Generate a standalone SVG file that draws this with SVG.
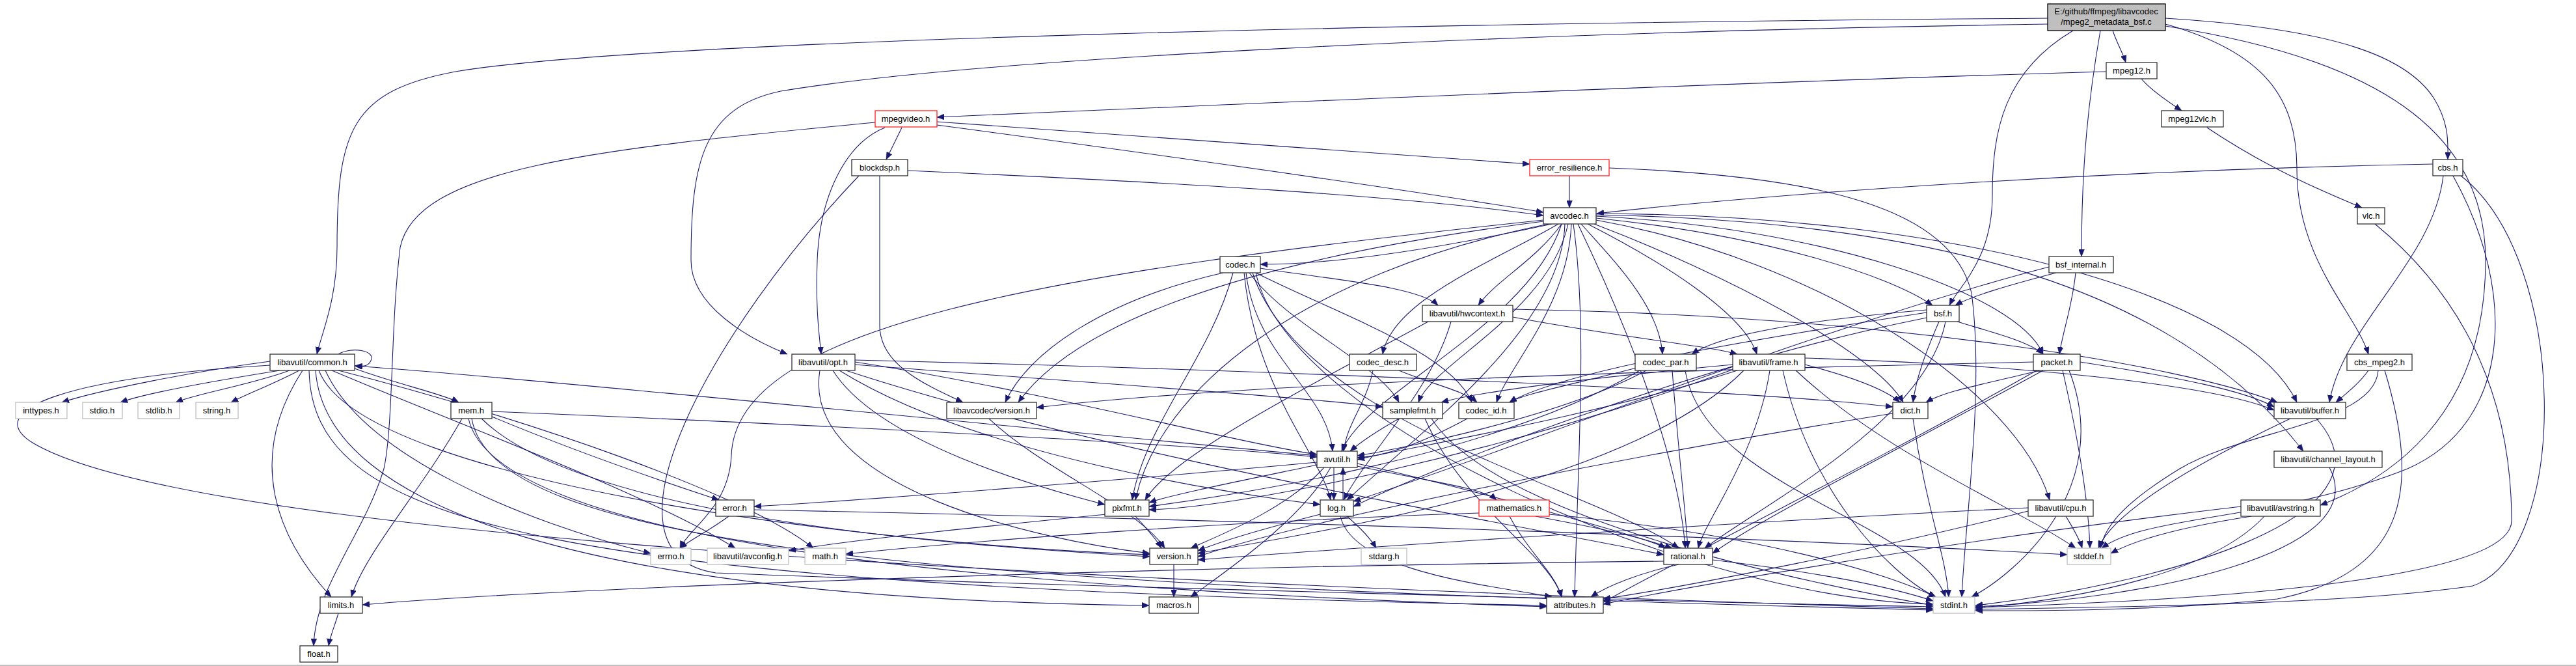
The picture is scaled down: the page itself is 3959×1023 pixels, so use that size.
<svg xmlns="http://www.w3.org/2000/svg" width="3959" height="1023" viewBox="0 0 3959 1023">
<style>
.e{fill:none;stroke:#191970;stroke-width:1.1;marker-end:url(#a)}
.n rect{fill:#fff;stroke:#303030;stroke-width:1.3}
.r rect{stroke:#ff2020}
.g rect{stroke:#bfbfbf}
text{font-family:"Liberation Sans",Arial,sans-serif;font-size:13px;fill:#000;text-anchor:middle}
</style>
<defs>
<marker id="a" markerWidth="12" markerHeight="9" refX="11" refY="4.5" orient="auto" markerUnits="userSpaceOnUse"><path d="M0,0 L11,4.5 L0,9 z" fill="#191970" stroke="#191970" stroke-width="0.5"/></marker>
</defs>
<rect x="0" y="0" width="3959" height="1023" fill="#fff"/>
<line x1="0" y1="1022" x2="3959" y2="1022" stroke="#aaa" stroke-width="1.5"/>
<g id="edges">
<path class="e" d="M3147 28 C2200 35 1000 60 700 110 C540 140 518 200 518 380 C518 460 495 510 487 544"/>
<path class="e" d="M3147 37 C2300 50 1500 90 1200 140 C1080 165 1062 250 1062 400 C1062 470 1150 520 1210 544"/>
<path class="e" d="M3247 47 C3255 70 3262 80 3267 96"/>
<path class="e" d="M3228 47 C3210 150 3199 250 3199 394"/>
<path class="e" d="M3186 47 C3080 110 3062 200 3062 300 C3062 400 3010 440 2996 469"/>
<path class="e" d="M3328 28 C3600 45 3700 90 3740 150 C3765 190 3762 220 3762 245"/>
<path class="e" d="M3328 37 C3480 80 3530 150 3530 260 C3530 400 3620 480 3640 544"/>
<path class="e" d="M3328 40 C3650 90 3820 200 3820 400 C3820 650 3660 740 3566 776"/>
<path class="e" d="M3237 110 C2700 125 1900 160 1440 180"/>
<path class="e" d="M3291 121 C3305 138 3330 155 3353 170"/>
<path class="e" d="M3392 196 C3480 255 3560 290 3630 319"/>
<path class="e" d="M3650 344 C3780 450 3860 600 3860 800 C3860 900 3300 925 3036 933"/>
<path class="e" d="M3739 252 C3200 262 2700 300 2454 328"/>
<path class="e" d="M3755 270 C3740 400 3600 500 3580 618"/>
<path class="e" d="M3770 270 C3870 450 3860 650 3700 720 C3500 800 3300 790 3230 842"/>
<path class="e" d="M3782 270 C3950 400 3950 850 3800 900 C3600 930 3200 933 3036 936"/>
<path class="e" d="M3640 569 C3625 590 3605 605 3590 618"/>
<path class="e" d="M3655 569 C3650 650 3450 660 3350 720 C3260 775 3235 810 3228 842"/>
<path class="e" d="M3665 569 C3720 750 3700 880 3500 920 C3300 940 3100 938 3036 938"/>
<path class="e" d="M2412 270 L2412 319"/>
<path class="e" d="M2473 258 C2800 270 3000 320 3030 450 C3050 600 3020 800 3015 917"/>
<path class="e" d="M1386 196 L1362 245"/>
<path class="e" d="M1360 196 C1300 220 1260 300 1256 400 C1253 480 1260 520 1262 544"/>
<path class="e" d="M1345 188 C900 230 640 260 615 380 C600 500 605 650 590 720 C560 820 485 900 482 992"/>
<path class="e" d="M1440 187 C1800 210 2100 235 2351 252"/>
<path class="e" d="M1440 192 C1800 240 2150 290 2372 326"/>
<path class="e" d="M1395 262 C1800 280 2150 300 2372 331"/>
<path class="e" d="M1352 270 L1352 500 C1352 560 1420 590 1480 618"/>
<path class="e" d="M1320 270 C1100 500 900 850 1100 880 C1600 900 2600 925 2971 932"/>
<path class="e" d="M2372 338 C1600 420 1130 500 1124 700 C1120 780 1060 810 1045 842"/>
<path class="e" d="M2380 344 C2000 420 1780 600 1745 768"/>
<path class="e" d="M2372 340 C1900 400 1650 500 1565 618"/>
<path class="e" d="M2385 344 Q2100 406 1937 406"/>
<path class="e" d="M2395 344 C2300 400 2140 460 2125 544"/>
<path class="e" d="M2400 344 C2350 500 2100 600 2062 693"/>
<path class="e" d="M2405 344 C2400 500 2200 650 2070 768"/>
<path class="e" d="M2410 344 C2380 480 2200 560 2180 618"/>
<path class="e" d="M2400 344 C2360 400 2300 430 2272 469"/>
<path class="e" d="M2415 344 C2410 470 2320 560 2300 618"/>
<path class="e" d="M2418 344 C2440 500 2425 700 2420 917"/>
<path class="e" d="M2425 344 C2500 500 2580 700 2590 842"/>
<path class="e" d="M2430 344 C2480 400 2550 470 2555 544"/>
<path class="e" d="M2440 344 C2550 400 2680 480 2700 544"/>
<path class="e" d="M2453 338 C2800 400 3100 600 3150 768"/>
<path class="e" d="M2450 344 C2650 420 2880 540 2925 618"/>
<path class="e" d="M2453 335 C2700 360 2900 420 2970 469"/>
<path class="e" d="M2453 332 C2800 350 3100 450 3140 544"/>
<path class="e" d="M2453 330 C3000 340 3350 450 3540 693"/>
<path class="e" d="M2453 328 C3000 330 3450 450 3530 618"/>
<path class="e" d="M1930 419 C1980 650 2600 920 2971 928"/>
<path class="e" d="M1915 419 C1930 550 2040 600 2048 693"/>
<path class="e" d="M1937 412 C2050 430 2180 440 2210 469"/>
<path class="e" d="M1912 419 C1930 600 2030 700 2045 768"/>
<path class="e" d="M1895 419 C1860 550 1760 650 1740 768"/>
<path class="e" d="M1925 419 C2000 650 2450 750 2580 842"/>
<path class="e" d="M1920 419 C1980 500 2120 560 2150 618"/>
<path class="e" d="M1930 419 C2050 480 2230 540 2262 618"/>
<path class="e" d="M1880 419 C1700 460 1580 540 1545 618"/>
<path class="e" d="M2110 569 C2100 620 2070 650 2065 693"/>
<path class="e" d="M2150 569 C2200 590 2250 600 2270 618"/>
<path class="e" d="M2255 643 Q2150 700 2086 703"/>
<path class="e" d="M2590 569 C2620 750 2950 800 2990 917"/>
<path class="e" d="M2530 569 C2400 640 2150 690 2086 700"/>
<path class="e" d="M2570 569 C2580 700 2590 780 2594 842"/>
<path class="e" d="M2520 569 C2300 700 1900 760 1766 778"/>
<path class="e" d="M2515 565 C2420 590 2340 605 2320 618"/>
<path class="e" d="M3170 569 C3200 700 3210 780 3212 842"/>
<path class="e" d="M3180 569 C3250 750 3100 880 3030 917"/>
<path class="e" d="M3130 569 C2900 700 2600 850 2464 925"/>
<path class="e" d="M3197 556 C3350 580 3450 600 3495 625"/>
<path class="e" d="M3135 569 C3050 590 2990 600 2960 618"/>
<path class="e" d="M3140 569 C2900 700 2700 800 2632 850"/>
<path class="e" d="M3125 556 C2500 570 1900 590 1593 626"/>
<path class="e" d="M2980 494 C2960 540 2945 580 2940 618"/>
<path class="e" d="M2961 488 C2600 560 2200 720 2080 778"/>
<path class="e" d="M2990 494 C2960 650 2700 780 2620 842"/>
<path class="e" d="M2961 480 C2700 520 2400 570 2320 618"/>
<path class="e" d="M2961 476 C2800 490 2650 510 2600 544"/>
<path class="e" d="M3008 494 C3060 510 3120 525 3140 544"/>
<path class="e" d="M3149 410 C2800 500 2300 700 2080 770"/>
<path class="e" d="M3160 419 C3080 440 3030 455 3005 469"/>
<path class="e" d="M3190 419 C3185 470 3170 510 3165 544"/>
<path class="e" d="M2325 475 C2900 485 3350 560 3500 618"/>
<path class="e" d="M2325 487 C2500 520 2620 530 2670 544"/>
<path class="e" d="M2230 494 C2200 600 2100 700 2065 768"/>
<path class="e" d="M2195 494 C2000 600 1800 700 1760 768"/>
<path class="e" d="M2760 569 C2900 700 3100 780 3190 842"/>
<path class="e" d="M2740 569 C2780 750 2900 880 2975 917"/>
<path class="e" d="M2670 569 C2450 640 2150 690 2086 706"/>
<path class="e" d="M2774 550 C3100 560 3400 590 3495 630"/>
<path class="e" d="M2774 560 C2850 580 2900 600 2920 618"/>
<path class="e" d="M2720 569 C2700 700 2620 800 2610 842"/>
<path class="e" d="M2663 560 C2450 580 2280 600 2215 618"/>
<path class="e" d="M2665 567 C2300 700 1900 780 1766 783"/>
<path class="e" d="M2680 569 C2500 750 2000 820 1841 850"/>
<path class="e" d="M2200 643 C2300 800 2800 900 2971 930"/>
<path class="e" d="M2150 643 C2120 660 2090 680 2075 693"/>
<path class="e" d="M2190 643 C2250 780 2380 850 2400 917"/>
<path class="e" d="M2940 643 C2960 780 2990 850 2995 917"/>
<path class="e" d="M2909 635 C2500 700 2000 800 1841 855"/>
<path class="e" d="M3520 643 C3400 700 3250 780 3225 842"/>
<path class="e" d="M3560 643 C3700 800 3300 900 3036 930"/>
<path class="e" d="M3580 718 C3650 850 3300 920 3036 932"/>
<path class="e" d="M3175 793 C3185 810 3195 825 3200 842"/>
<path class="e" d="M3117 785 C2900 840 2600 900 2464 920"/>
<path class="e" d="M3117 780 C2700 800 2100 840 1841 860"/>
<path class="e" d="M3460 793 C3350 810 3280 830 3244 850"/>
<path class="e" d="M3480 793 C3400 880 3200 920 3036 934"/>
<path class="e" d="M3444 778 C3000 830 2600 900 2464 928"/>
<path class="e" d="M2024 700 C1500 650 800 580 545 562"/>
<path class="e" d="M2024 710 C1700 740 1300 770 1159 778"/>
<path class="e" d="M2086 712 C2300 760 2500 820 2570 842"/>
<path class="e" d="M2035 718 C1980 780 1880 820 1830 842"/>
<path class="e" d="M2045 718 C2000 800 1880 880 1830 917"/>
<path class="e" d="M2086 716 C2200 740 2280 750 2300 768"/>
<path class="e" d="M2050 718 L2050 768"/>
<path class="e" d="M2024 714 C1900 740 1800 760 1766 772"/>
<path class="e" d="M415 555 C300 570 150 600 95 618"/>
<path class="e" d="M430 569 C330 585 220 605 185 618"/>
<path class="e" d="M445 569 C390 590 300 605 270 618"/>
<path class="e" d="M460 569 C420 590 380 605 355 618"/>
<path class="e" d="M545 566 C610 590 680 605 705 618"/>
<path class="e" d="M500 569 C560 700 800 800 1000 850"/>
<path class="e" d="M510 569 C700 650 1000 760 1130 842"/>
<path class="e" d="M520 569 C800 640 1150 760 1250 842"/>
<path class="e" d="M465 569 C380 700 420 820 509 917"/>
<path class="e" d="M475 569 C480 800 800 900 2377 930"/>
<path class="e" d="M485 569 C500 780 900 920 1766 930"/>
<path class="e" d="M490 569 C560 750 1400 840 1767 852"/>
<path class="e" d="M415 561 C100 580 -30 630 50 680 C250 800 1200 880 2971 935"/>
<path class="e" d="M520 544 C540 532 578 538 570 554 C566 563 558 563 546 562"/>
<path class="e" d="M710 643 C650 750 560 850 540 917"/>
<path class="e" d="M725 643 C760 850 1500 900 2971 937"/>
<path class="e" d="M720 643 C760 820 1400 900 2377 932"/>
<path class="e" d="M756 640 C900 700 1050 750 1105 768"/>
<path class="e" d="M756 632 C1200 650 1800 680 2024 702"/>
<path class="e" d="M740 643 C900 800 1500 840 1767 855"/>
<path class="e" d="M1120 793 C1090 815 1060 830 1045 842"/>
<path class="e" d="M1159 783 C2000 800 2800 830 3177 852"/>
<path class="e" d="M1300 569 C1700 700 2300 800 2557 852"/>
<path class="e" d="M1314 556 C1600 600 1900 680 2024 698"/>
<path class="e" d="M1314 553 C2000 570 2700 600 2909 625"/>
<path class="e" d="M1290 569 C1500 700 1900 760 2029 775"/>
<path class="e" d="M1280 569 C1350 680 1600 750 1698 775"/>
<path class="e" d="M1314 560 C1700 590 2000 610 2125 625"/>
<path class="e" d="M1260 569 C1230 750 1600 830 1767 850"/>
<path class="e" d="M2070 793 C2090 810 2105 825 2115 842"/>
<path class="e" d="M2064 768 L2064 718"/>
<path class="e" d="M2060 793 C2080 880 2300 900 2385 917"/>
<path class="e" d="M2029 790 C1950 810 1880 830 1841 846"/>
<path class="e" d="M1700 790 C1500 810 1300 830 1212 846"/>
<path class="e" d="M1745 793 C1760 810 1775 825 1785 842"/>
<path class="e" d="M1804 867 L1804 917"/>
<path class="e" d="M2632 860 C2800 880 2900 900 2971 923"/>
<path class="e" d="M2557 862 C1800 870 900 900 557 929"/>
<path class="e" d="M2580 867 C2520 880 2470 900 2445 917"/>
<path class="e" d="M2381 790 C2700 820 2900 880 2975 917"/>
<path class="e" d="M2273 788 C1900 800 1500 830 1300 851"/>
<path class="e" d="M2320 793 C2350 850 2390 880 2400 917"/>
<path class="e" d="M2360 793 C2450 810 2530 825 2560 842"/>
<path class="e" d="M1520 643 C1600 720 1750 780 1790 842"/>
<path class="e" d="M520 942 C515 960 508 975 505 992"/>
</g>
<g id="n_root"><rect x="3147" y="6" width="181" height="41" fill="#bfbfbf" stroke="#000" stroke-width="1.3"/><text x="3237" y="22">E:/github/ffmpeg/libavcodec</text><text x="3237" y="38">/mpeg2_metadata_bsf.c</text></g>
<g id="n_mpeg12" class="n"><rect x="3237" y="96" width="78" height="25"/><text x="3276" y="113">mpeg12.h</text></g>
<g id="n_mpeg12vlc" class="n"><rect x="3322" y="170" width="95" height="25"/><text x="3369" y="187">mpeg12vlc.h</text></g>
<g id="n_mpegvideo" class="n r"><rect x="1345" y="170" width="95" height="25"/><text x="1392" y="187">mpegvideo.h</text></g>
<g id="n_blockdsp" class="n"><rect x="1309" y="245" width="86" height="25"/><text x="1352" y="262">blockdsp.h</text></g>
<g id="n_errres" class="n r"><rect x="2351" y="245" width="122" height="25"/><text x="2412" y="262">error_resilience.h</text></g>
<g id="n_cbs" class="n"><rect x="3739" y="245" width="46" height="25"/><text x="3762" y="262">cbs.h</text></g>
<g id="n_avcodec" class="n"><rect x="2372" y="319" width="81" height="25"/><text x="2412" y="336">avcodec.h</text></g>
<g id="n_vlc" class="n"><rect x="3623" y="319" width="42" height="25"/><text x="3644" y="336">vlc.h</text></g>
<g id="n_codec" class="n"><rect x="1875" y="394" width="62" height="25"/><text x="1906" y="411">codec.h</text></g>
<g id="n_bsfint" class="n"><rect x="3149" y="394" width="99" height="25"/><text x="3198" y="411">bsf_internal.h</text></g>
<g id="n_hwctx" class="n"><rect x="2186" y="469" width="139" height="25"/><text x="2255" y="486">libavutil/hwcontext.h</text></g>
<g id="n_bsf" class="n"><rect x="2961" y="469" width="50" height="25"/><text x="2986" y="486">bsf.h</text></g>
<g id="n_common" class="n"><rect x="415" y="544" width="130" height="25"/><text x="480" y="561">libavutil/common.h</text></g>
<g id="n_opt" class="n"><rect x="1217" y="544" width="97" height="25"/><text x="1265" y="561">libavutil/opt.h</text></g>
<g id="n_codecdesc" class="n"><rect x="2074" y="544" width="103" height="25"/><text x="2125" y="561">codec_desc.h</text></g>
<g id="n_codecpar" class="n"><rect x="2513" y="544" width="94" height="25"/><text x="2560" y="561">codec_par.h</text></g>
<g id="n_frame" class="n"><rect x="2663" y="544" width="111" height="25"/><text x="2718" y="561">libavutil/frame.h</text></g>
<g id="n_packet" class="n"><rect x="3125" y="544" width="72" height="25"/><text x="3161" y="561">packet.h</text></g>
<g id="n_cbsmpeg2" class="n"><rect x="3607" y="544" width="100" height="25"/><text x="3657" y="561">cbs_mpeg2.h</text></g>
<g id="n_inttypes" class="n g"><rect x="24" y="618" width="79" height="25"/><text x="63" y="635">inttypes.h</text></g>
<g id="n_stdio" class="n g"><rect x="127" y="618" width="61" height="25"/><text x="157" y="635">stdio.h</text></g>
<g id="n_stdlib" class="n g"><rect x="212" y="618" width="64" height="25"/><text x="244" y="635">stdlib.h</text></g>
<g id="n_string" class="n g"><rect x="301" y="618" width="65" height="25"/><text x="333" y="635">string.h</text></g>
<g id="n_mem" class="n"><rect x="693" y="618" width="63" height="25"/><text x="724" y="635">mem.h</text></g>
<g id="n_lavcver" class="n"><rect x="1455" y="618" width="138" height="25"/><text x="1524" y="635">libavcodec/version.h</text></g>
<g id="n_samplefmt" class="n"><rect x="2125" y="618" width="92" height="25"/><text x="2171" y="635">samplefmt.h</text></g>
<g id="n_codecid" class="n"><rect x="2242" y="618" width="85" height="25"/><text x="2284" y="635">codec_id.h</text></g>
<g id="n_dict" class="n"><rect x="2909" y="618" width="54" height="25"/><text x="2936" y="635">dict.h</text></g>
<g id="n_buffer" class="n"><rect x="3495" y="618" width="110" height="25"/><text x="3550" y="635">libavutil/buffer.h</text></g>
<g id="n_avutil" class="n"><rect x="2024" y="693" width="62" height="25"/><text x="2055" y="710">avutil.h</text></g>
<g id="n_chlayout" class="n"><rect x="3495" y="693" width="166" height="25"/><text x="3578" y="710">libavutil/channel_layout.h</text></g>
<g id="n_error" class="n"><rect x="1100" y="768" width="59" height="25"/><text x="1129" y="785">error.h</text></g>
<g id="n_pixfmt" class="n"><rect x="1698" y="768" width="68" height="25"/><text x="1732" y="785">pixfmt.h</text></g>
<g id="n_log" class="n"><rect x="2029" y="768" width="51" height="25"/><text x="2054" y="785">log.h</text></g>
<g id="n_mathematics" class="n r"><rect x="2273" y="768" width="108" height="25"/><text x="2327" y="785">mathematics.h</text></g>
<g id="n_cpu" class="n"><rect x="3117" y="768" width="100" height="25"/><text x="3167" y="785">libavutil/cpu.h</text></g>
<g id="n_avstring" class="n"><rect x="3444" y="768" width="122" height="25"/><text x="3505" y="785">libavutil/avstring.h</text></g>
<g id="n_errno" class="n g"><rect x="1000" y="842" width="62" height="25"/><text x="1031" y="859">errno.h</text></g>
<g id="n_avconfig" class="n g"><rect x="1087" y="842" width="125" height="25"/><text x="1149" y="859">libavutil/avconfig.h</text></g>
<g id="n_math" class="n g"><rect x="1237" y="842" width="63" height="25"/><text x="1268" y="859">math.h</text></g>
<g id="n_version" class="n"><rect x="1767" y="842" width="74" height="25"/><text x="1804" y="859">version.h</text></g>
<g id="n_stdarg" class="n g"><rect x="2092" y="842" width="70" height="25"/><text x="2127" y="859">stdarg.h</text></g>
<g id="n_rational" class="n"><rect x="2557" y="842" width="75" height="25"/><text x="2594" y="859">rational.h</text></g>
<g id="n_stddef" class="n g"><rect x="3177" y="842" width="67" height="25"/><text x="3210" y="859">stddef.h</text></g>
<g id="n_limits" class="n"><rect x="492" y="917" width="65" height="25"/><text x="524" y="934">limits.h</text></g>
<g id="n_macros" class="n"><rect x="1766" y="917" width="76" height="25"/><text x="1804" y="934">macros.h</text></g>
<g id="n_attributes" class="n"><rect x="2377" y="917" width="87" height="25"/><text x="2420" y="934">attributes.h</text></g>
<g id="n_stdint" class="n g"><rect x="2971" y="917" width="64" height="25"/><text x="3003" y="934">stdint.h</text></g>
<g id="n_float" class="n"><rect x="461" y="992" width="58" height="25"/><text x="490" y="1009">float.h</text></g>
</svg>
